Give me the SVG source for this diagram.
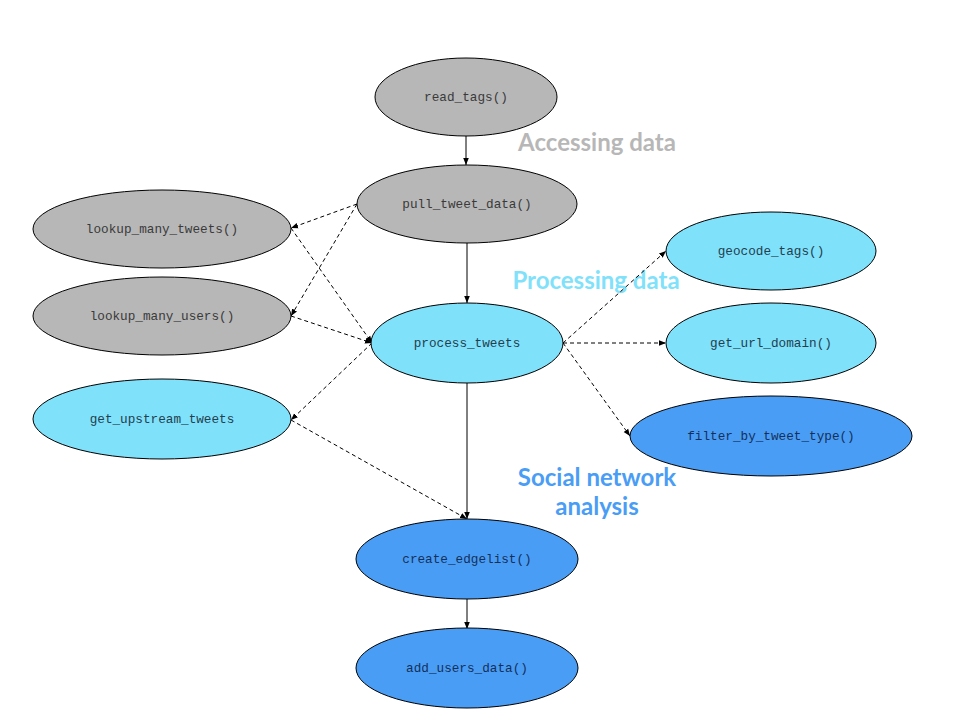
<svg xmlns="http://www.w3.org/2000/svg" width="960" height="720" viewBox="0 0 960 720">
<style>
.n ellipse{stroke:#000;stroke-width:1}
.g ellipse{fill:#b7b7b7}
.c ellipse{fill:#80e1fb}
.b ellipse{fill:#4a9df5}
.n text{font-family:"Liberation Mono","DejaVu Sans Mono",monospace;font-size:12.7px;text-anchor:middle}
.g text{fill:#3a3a3a}
.c text{fill:#22404e}
.b text{fill:#13305a}
.e line{stroke:#000;stroke-width:1;marker-end:url(#ah)}
.e .d{stroke-dasharray:4 3}
.h{font-family:Lato,"Open Sans",sans-serif;font-weight:bold;font-size:24px;text-anchor:middle}
</style>
<defs>
<marker id="ah" viewBox="0 0 10 10" refX="10" refY="5" markerWidth="7" markerHeight="7" markerUnits="userSpaceOnUse" orient="auto">
<path d="M0,1 L10,5 L0,9 z" fill="#000"/>
</marker>
</defs>
<rect width="960" height="720" fill="#fff"/>
<text class="h" x="597" y="151" fill="#b7b7b7">Accessing data</text>
<text class="h" x="596" y="289" fill="#80e1fb">Processing data</text>
<text class="h" x="597" y="486" fill="#4a9df5">Social network</text>
<text class="h" x="597" y="515" fill="#4a9df5">analysis</text>
<g id="edges" class="e">
<line x1="466" y1="136" x2="466" y2="165"/>
<line x1="467" y1="243" x2="467" y2="303"/>
<line x1="467" y1="383" x2="467" y2="519"/>
<line x1="467" y1="598" x2="467" y2="629"/>
<line class="d" x1="357" y1="204" x2="291" y2="228"/>
<line class="d" x1="357" y1="204" x2="291" y2="316"/>
<line class="d" x1="291" y1="228" x2="372" y2="343"/>
<line class="d" x1="291" y1="316" x2="372" y2="343"/>
<line class="d" x1="372" y1="343" x2="291" y2="420"/>
<line class="d" x1="291" y1="420" x2="467" y2="519"/>
<line class="d" x1="563" y1="343" x2="666" y2="251"/>
<line class="d" x1="563" y1="343" x2="666" y2="343"/>
<line class="d" x1="563" y1="343" x2="630" y2="436"/>
</g>
<g id="read_tags" class="n g"><ellipse cx="466" cy="97" rx="91" ry="39"/><text x="466" y="101">read_tags()</text></g>
<g id="pull_tweet_data" class="n g"><ellipse cx="467" cy="204" rx="110" ry="39"/><text x="467" y="208">pull_tweet_data()</text></g>
<g id="lookup_many_tweets" class="n g"><ellipse cx="162" cy="229" rx="129" ry="39"/><text x="162" y="233">lookup_many_tweets()</text></g>
<g id="lookup_many_users" class="n g"><ellipse cx="162" cy="316" rx="129" ry="39"/><text x="162" y="320">lookup_many_users()</text></g>
<g id="process_tweets" class="n c"><ellipse cx="467" cy="343" rx="96" ry="40"/><text x="467" y="347">process_tweets</text></g>
<g id="get_upstream_tweets" class="n c"><ellipse cx="162" cy="419" rx="129" ry="40"/><text x="162" y="423">get_upstream_tweets</text></g>
<g id="geocode_tags" class="n c"><ellipse cx="771" cy="251" rx="105" ry="39"/><text x="771" y="255">geocode_tags()</text></g>
<g id="get_url_domain" class="n c"><ellipse cx="771" cy="343" rx="105" ry="40"/><text x="771" y="347">get_url_domain()</text></g>
<g id="filter_by_tweet_type" class="n b"><ellipse cx="771" cy="436" rx="141" ry="40"/><text x="771" y="440">filter_by_tweet_type()</text></g>
<g id="create_edgelist" class="n b"><ellipse cx="467" cy="559" rx="111" ry="40"/><text x="467" y="563">create_edgelist()</text></g>
<g id="add_users_data" class="n b"><ellipse cx="467" cy="668" rx="111" ry="40"/><text x="467" y="672">add_users_data()</text></g>
</svg>
